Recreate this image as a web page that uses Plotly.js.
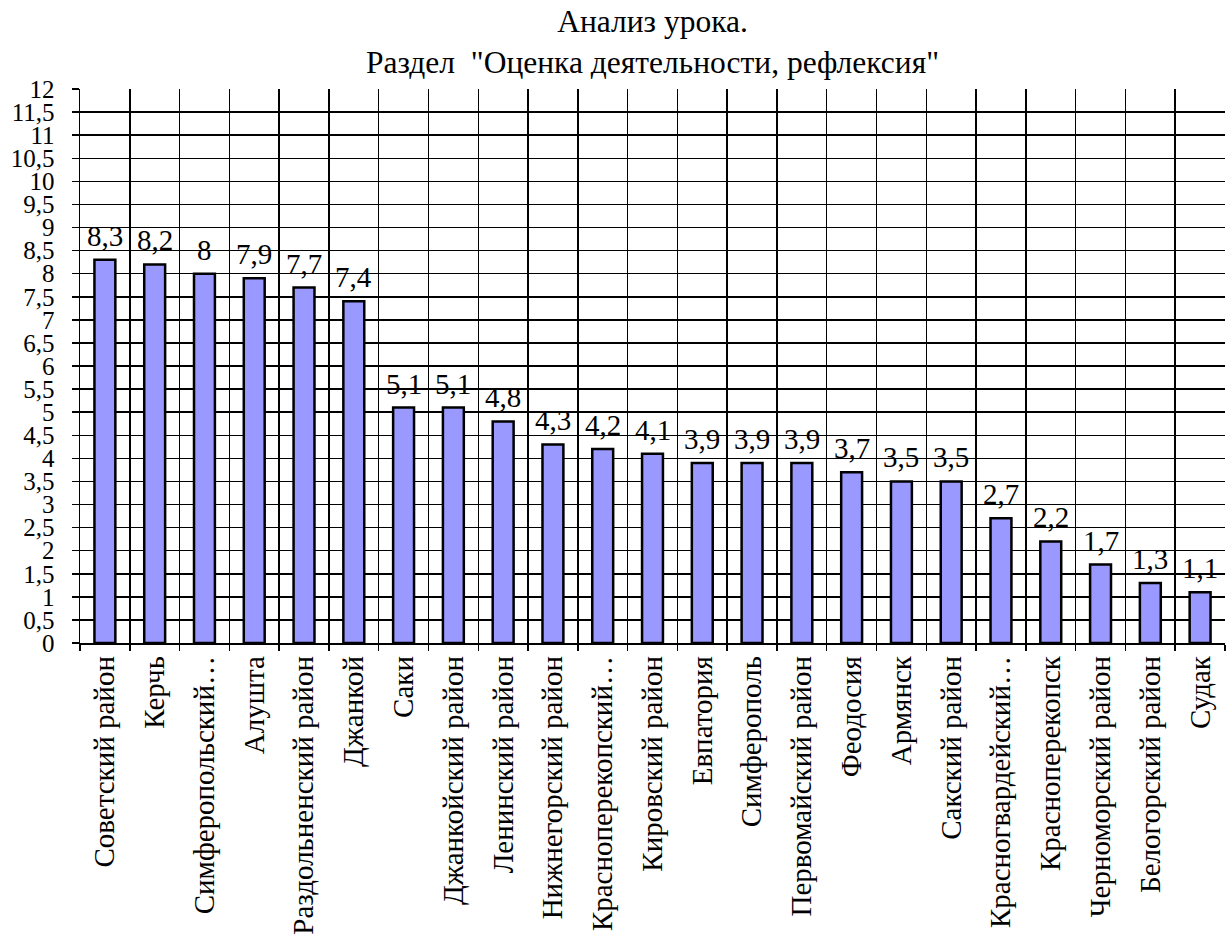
<!DOCTYPE html>
<html><head><meta charset="utf-8">
<script src="https://cdn.plot.ly/plotly-3.0.1.min.js"></script>
<style>body{margin:0;background:#fff}#chart{width:1230px;height:942px}</style>
</head><body><div id="chart"></div>
<script>
const categories = ["Советский район","Керчь","Симферопольский…","Алушта","Раздольненский район","Джанкой","Саки","Джанкойский район","Ленинский район","Нижнегорский район","Красноперекопский…","Кировский район","Евпатория","Симферополь","Первомайский район","Феодосия","Армянск","Сакский район","Красногвардейский…","Красноперекопск","Черноморский район","Белогорский район","Судак"];
const values = [8.3,8.2,8,7.9,7.7,7.4,5.1,5.1,4.8,4.3,4.2,4.1,3.9,3.9,3.9,3.7,3.5,3.5,2.7,2.2,1.7,1.3,1.1];
const yTickVals = [0,0.5,1,1.5,2,2.5,3,3.5,4,4.5,5,5.5,6,6.5,7,7.5,8,8.5,9,9.5,10,10.5,11,11.5,12];
const yTickText = yTickVals.map(v => String(v).replace('.', ','));
const titleText = 'Анализ урока.<br>Раздел  "Оценка деятельности, рефлексия"';

const font = "'Liberation Serif', 'Times New Roman', serif";
const labelAnnotations = categories.map((c, i) => ({
  x: c, y: values[i], xref: 'x', yref: 'y',
  text: String(values[i]).replace('.', ','),
  showarrow: false, yanchor: 'bottom', yshift: 6,
  font: {family: font, size: 29, color: '#000'}
}));

Plotly.newPlot('chart', [{
  type: 'bar', x: categories, y: values,
  marker: {color: '#9999ff', line: {color: '#000', width: 2.5}},
  hoverinfo: 'none'
}], {
  width: 1230, height: 942,
  margin: {l: 80, r: 5, t: 89, b: 299},
  paper_bgcolor: '#fff', plot_bgcolor: '#fff',
  bargap: 0.58,
  showlegend: false,
  font: {family: font, color: '#000'},
  title: {text: titleText, x: 0.5305, xanchor: 'center', yref: 'container', y: 0.966, yanchor: 'middle', font: {family: font, size: 31.5, color: '#000'}},
  annotations: labelAnnotations,
  xaxis: {
    type: 'category', tickson: 'boundaries', ticks: 'outside', ticklen: 6, tickcolor: '#000', tickwidth: 1.5,
    showgrid: true, gridcolor: '#000', gridwidth: 1.5,
    showline: true, linecolor: '#000', linewidth: 1.5,
    tickangle: -90, tickfont: {family: font, size: 29, color: '#000'},
    automargin: false
  },
  yaxis: {
    range: [0, 12], tickvals: yTickVals, ticktext: yTickText,
    ticks: 'outside', ticklen: 7, tickcolor: '#000', tickwidth: 1.5,
    showgrid: true, gridcolor: '#000', gridwidth: 1.5,
    showline: true, linecolor: '#000', linewidth: 1.5, zeroline: false,
    tickfont: {family: font, size: 25, color: '#000'},
    ticklabelstandoff: 12,
    automargin: false
  }
}, {displayModeBar: false, staticPlot: true});
</script></body></html>
